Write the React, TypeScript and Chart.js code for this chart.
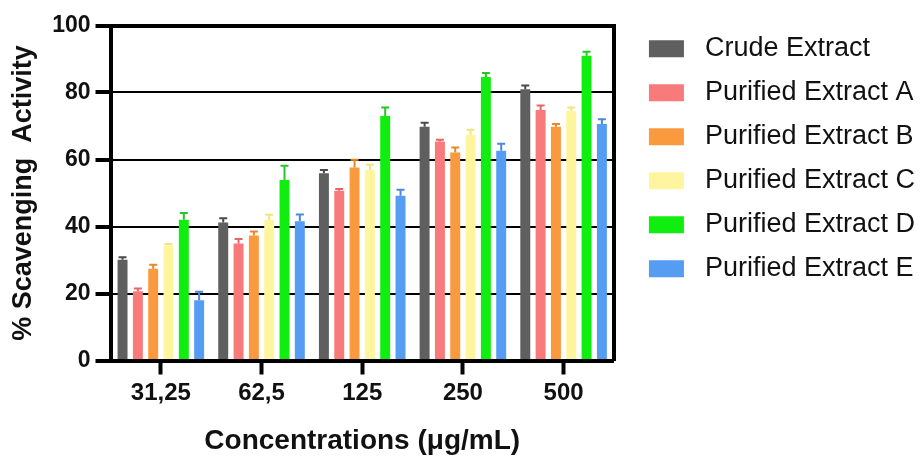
import React, { useEffect, useRef } from "react";
import { Chart, registerables } from "chart.js";

Chart.register(...registerables);

const categories = ["31,25", "62,5", "125", "250", "500"];
const seriesNames = [
  "Crude Extract",
  "Purified Extract A",
  "Purified Extract B",
  "Purified Extract C",
  "Purified Extract D",
  "Purified Extract E",
];

const crude = [30.1, 41.2, 55.9, 69.8, 81.0];
const crudeErr = [0.7, 1.3, 1.0, 1.2, 1.1];
const extractA = [20.7, 34.9, 50.7, 65.4, 74.8];
const extractAErr = [0.8, 1.4, 0.5, 0.5, 1.3];
const extractB = [27.4, 37.3, 57.6, 62.1, 69.8];
const extractBErr = [1.2, 1.2, 2.3, 1.5, 0.8];
const extractC = [34.3, 42.0, 56.9, 67.4, 74.5];
const extractCErr = [0.5, 1.5, 1.5, 1.5, 1.0];
const extractD = [42.0, 53.9, 73.0, 84.6, 91.0];
const extractDErr = [2.0, 4.2, 2.5, 1.2, 1.2];
const extractE = [18.0, 41.6, 49.2, 62.6, 70.6];
const extractEErr = [2.5, 2.0, 1.8, 2.1, 1.4];

const barColors = ["#5f5f5f", "#f87a7b", "#fa9a3e", "#fff59e", "#10ee10", "#559cf3"];
const errColors = ["#4a4a4a", "#e86566", "#e8862c", "#f2e47e", "#22c822", "#4a88dc"];

const yTicks = [0, 20, 40, 60, 80, 100];

const FONT = "'Liberation Sans', Arial, Helvetica, sans-serif";

const errorBarPlugin = {
  id: "errorBars",
  afterDatasetsDraw(chart: any) {
    const ctx = chart.ctx;
    const yScale = chart.scales.y;
    chart.data.datasets.forEach((ds: any, i: number) => {
      const meta = chart.getDatasetMeta(i);
      if (meta.hidden) return;
      meta.data.forEach((bar: any, j: number) => {
        const v = ds.data[j];
        const e = ds.errors[j];
        const yTop = yScale.getPixelForValue(v + e);
        const yBase = yScale.getPixelForValue(v);
        ctx.save();
        ctx.strokeStyle = ds.errorColor;
        ctx.lineWidth = 2;
        ctx.beginPath();
        ctx.moveTo(bar.x, yBase);
        ctx.lineTo(bar.x, yTop);
        ctx.moveTo(bar.x - 4, yTop);
        ctx.lineTo(bar.x + 4, yTop);
        ctx.stroke();
        ctx.restore();
      });
    });
  },
};

// Let the right-hand legend take the width its labels need.
const legendWidthPlugin = {
  id: "legendWidth",
  beforeLayout(chart: any) {
    const lg = chart.legend;
    if (lg && !lg._wideFit) {
      const orig = lg.fit;
      lg.fit = function () {
        this.maxWidth = 450;
        orig.call(this);
      };
      lg._wideFit = true;
    }
  },
};

export default function App() {
  const ref = useRef<HTMLCanvasElement | null>(null);

  useEffect(() => {
    if (!ref.current) return;
    Chart.defaults.font.family = FONT;
    const values = [crude, extractA, extractB, extractC, extractD, extractE];
    const errors = [crudeErr, extractAErr, extractBErr, extractCErr, extractDErr, extractEErr];
    const chart = new Chart(ref.current, {
      type: "bar",
      data: {
        labels: categories,
        datasets: seriesNames.map((name, i) => ({
          label: name,
          data: values[i],
          errors: errors[i],
          errorColor: errColors[i],
          backgroundColor: barColors[i],
          borderWidth: 0,
          categoryPercentage: 0.913,
          barPercentage: 0.65,
        })) as any,
      },
      options: {
        responsive: false,
        animation: false,
        layout: { padding: { top: 18.2, right: -4, bottom: 0, left: 0 } },
        plugins: {
          tooltip: { enabled: false },
          legend: {
            position: "right",
            align: "start",
            labels: {
              boxWidth: 35,
              boxHeight: 17,
              padding: 17,
              color: "#111",
              font: { size: 27, family: FONT },
              generateLabels(chart: any) {
                const items = Chart.defaults.plugins.legend.labels.generateLabels(chart);
                return items.map((it: any) => ({ ...it, text: " " + it.text, lineWidth: 0 }));
              },
            },
          },
        },
        scales: {
          x: {
            type: "category",
            offset: true,
            grid: {
              display: true,
              drawOnChartArea: false,
              drawTicks: true,
              tickLength: 14,
              tickWidth: 4,
              tickColor: "#000",
              offset: false,
            },
            border: { display: true, width: 4, color: "#000", z: 1 },
            ticks: {
              color: "#111",
              padding: 4,
              font: { size: 24, weight: "bold", family: FONT },
              maxRotation: 0,
            },
            title: {
              display: true,
              text: "Concentrations (μg/mL)",
              color: "#111",
              font: { size: 28, weight: "bold", family: FONT },
              padding: { top: 10, bottom: 2.5 },
            },
            afterFit(s: any) {
              s.height = 100.5;
            },
          },
          y: {
            type: "linear",
            min: 0,
            max: 100,
            afterBuildTicks(s: any) {
              s.ticks = yTicks.map((v) => ({ value: v }));
            },
            grid: {
              color: "#000",
              lineWidth: (c: any) => (c.tick && c.tick.value === 0 ? 0 : c.tick && c.tick.value === 100 ? 4 : 2),
              drawTicks: true,
              tickLength: 15,
              tickWidth: 4,
              tickColor: "#000",
            },
            border: { display: true, width: 4, color: "#000", z: 1 },
            ticks: {
              color: "#111",
              padding: 5,
              font: { size: 23, weight: "bold", family: FONT },
            },
            title: {
              display: true,
              text: "% Scavenging  Activity",
              color: "#111",
              font: { size: 27, weight: "bold", family: FONT },
              padding: { top: 7, bottom: 0 },
            },
            afterFit(s: any) {
              s.width = 110.5;
              s.paddingTop = 25.5;
            },
          },
          y2: {
            type: "linear",
            position: "right",
            display: true,
            grid: { display: false, drawTicks: false },
            ticks: { display: false },
            border: { display: true, width: 4, color: "#000", z: 1 },
            afterFit(s: any) {
              s.width = 18;
            },
          },
        },
      } as any,
      plugins: [legendWidthPlugin, errorBarPlugin],
    });
    return () => chart.destroy();
  }, []);

  return (
    <div style={{ position: "fixed", left: 0, top: 0, width: 921, height: 461, background: "#fff" }}>
      <canvas ref={ref} width={921} height={461} style={{ display: "block" }} />
    </div>
  );
}
